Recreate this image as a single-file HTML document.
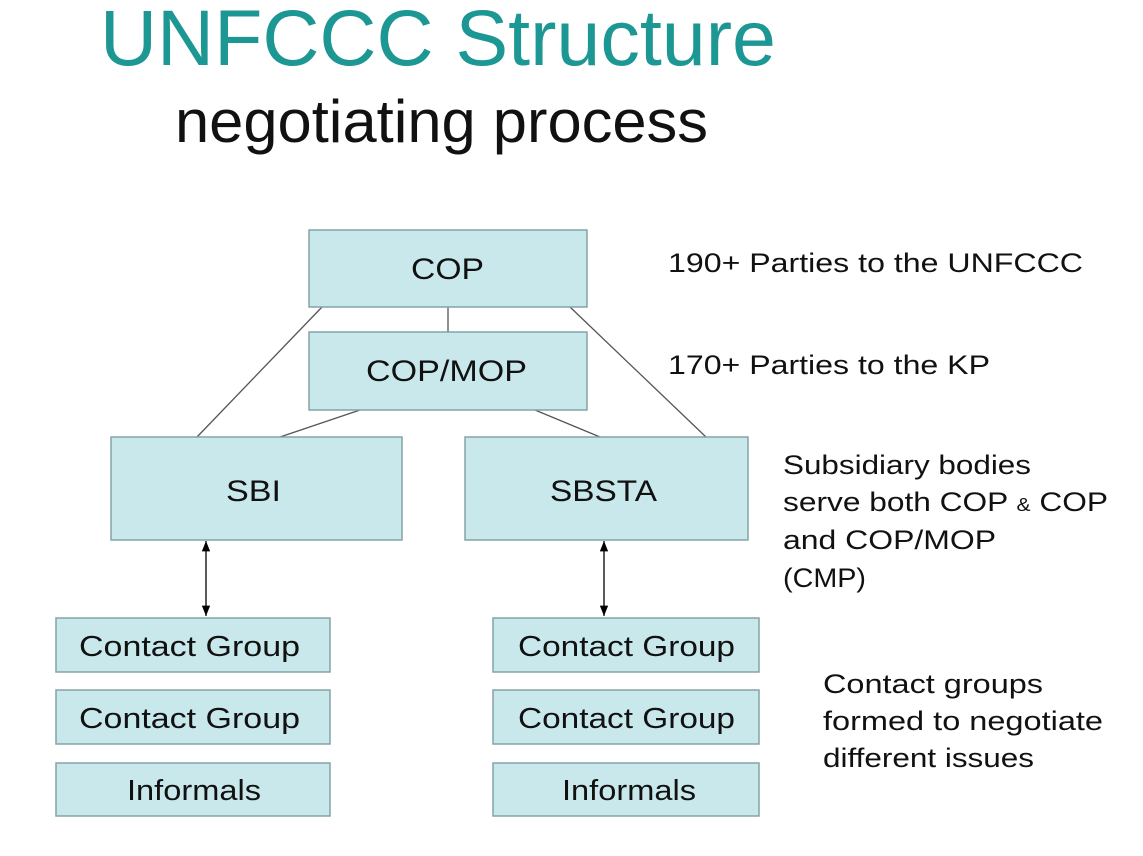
<!DOCTYPE html>
<html><head><meta charset="utf-8"><style>
html,body{margin:0;padding:0;background:#fff;}
svg{display:block;font-family:"Liberation Sans",sans-serif;}
</style></head><body>
<svg width="1143" height="856" viewBox="0 0 1143 856" xmlns="http://www.w3.org/2000/svg">
<defs><marker id="a" viewBox="0 0 10 10" refX="10" refY="5" markerWidth="8" markerHeight="8" orient="auto-start-reverse"><path d="M0,1 L10,5 L0,9 z" fill="#000"/></marker></defs>
<text x="100" y="65" font-size="79" fill="#1c9793">UNFCCC Structure</text>
<text x="175" y="142" font-size="60" fill="#111" textLength="533" lengthAdjust="spacingAndGlyphs">negotiating process</text>
<g stroke="#555" stroke-width="1.3">
<line x1="322" y1="307" x2="197" y2="437"/>
<line x1="570" y1="307" x2="706" y2="437"/>
<line x1="448" y1="307" x2="448" y2="332"/>
<line x1="360" y1="410" x2="280" y2="437"/>
<line x1="535" y1="410" x2="600" y2="437"/>
</g>
<g fill="#c8e8ec" stroke="#86a3a7" stroke-width="1.5">
<rect x="309" y="230" width="278" height="77"/>
<rect x="309" y="332" width="278" height="78"/>
<rect x="111" y="437" width="291" height="103"/>
<rect x="465" y="437" width="283" height="103"/>
<rect x="56" y="618" width="274" height="54"/>
<rect x="56" y="690" width="274" height="54"/>
<rect x="56" y="763" width="274" height="53"/>
<rect x="493" y="618" width="266" height="54"/>
<rect x="493" y="690" width="266" height="54"/>
<rect x="493" y="763" width="266" height="53"/>
</g>
<g stroke="#000" stroke-width="1.3">
<line x1="206" y1="541" x2="206" y2="616" marker-start="url(#a)" marker-end="url(#a)"/>
<line x1="604" y1="541" x2="604" y2="616" marker-start="url(#a)" marker-end="url(#a)"/>
</g>
<g font-size="30" fill="#111" lengthAdjust="spacingAndGlyphs">
<text x="411" y="279" textLength="73" lengthAdjust="spacingAndGlyphs">COP</text>
<text x="366" y="381" textLength="161" lengthAdjust="spacingAndGlyphs">COP/MOP</text>
<text x="226" y="501" textLength="55" lengthAdjust="spacingAndGlyphs">SBI</text>
<text x="550" y="501" textLength="107" lengthAdjust="spacingAndGlyphs">SBSTA</text>
</g>
<g font-size="29" fill="#111">
<text x="79" y="656" textLength="221" lengthAdjust="spacingAndGlyphs">Contact Group</text>
<text x="79" y="728" textLength="221" lengthAdjust="spacingAndGlyphs">Contact Group</text>
<text x="127" y="800" textLength="134" lengthAdjust="spacingAndGlyphs">Informals</text>
<text x="518" y="656" textLength="217" lengthAdjust="spacingAndGlyphs">Contact Group</text>
<text x="518" y="728" textLength="217" lengthAdjust="spacingAndGlyphs">Contact Group</text>
<text x="562" y="800" textLength="134" lengthAdjust="spacingAndGlyphs">Informals</text>
</g>
<g font-size="27" fill="#111">
<text x="668" y="272" textLength="415" lengthAdjust="spacingAndGlyphs">190+ Parties to the UNFCCC</text>
<text x="668" y="374" textLength="322" lengthAdjust="spacingAndGlyphs">170+ Parties to the KP</text>
<text x="783" y="474" textLength="248" lengthAdjust="spacingAndGlyphs">Subsidiary bodies</text>
<text x="783" y="511" textLength="325" lengthAdjust="spacingAndGlyphs">serve both COP <tspan font-size="18">&amp;</tspan> COP</text>
<text x="783" y="549" textLength="213" lengthAdjust="spacingAndGlyphs">and COP/MOP</text>
<text x="783" y="587" textLength="83" lengthAdjust="spacingAndGlyphs">(CMP)</text>
<text x="823" y="693" textLength="220" lengthAdjust="spacingAndGlyphs">Contact groups</text>
<text x="823" y="730" textLength="280" lengthAdjust="spacingAndGlyphs">formed to negotiate</text>
<text x="823" y="767" textLength="211" lengthAdjust="spacingAndGlyphs">different issues</text>
</g>
</svg>
</body></html>
